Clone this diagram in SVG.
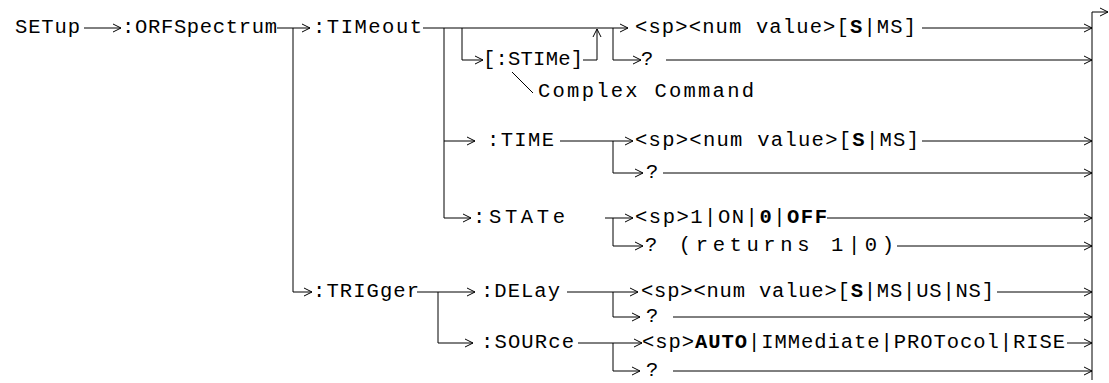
<svg xmlns="http://www.w3.org/2000/svg" width="1109" height="383" viewBox="0 0 1109 383">
<style>
text{font-family:"Liberation Mono","Courier New",monospace;font-size:20.5px;fill:#000}
.b{font-weight:bold}
.c{fill:none;stroke:#000;stroke-width:1}
</style>
<defs>
<marker id="a" markerUnits="userSpaceOnUse" markerWidth="10" markerHeight="10" refX="8" refY="4" orient="auto" overflow="visible">
<path d="M0,0 L8,4 L0,8" fill="none" stroke="#000" stroke-width="1"/>
</marker>
</defs>
<rect width="1109" height="383" fill="#fff"/>
<g id="connectors" class="c" marker-end="url(#a)">
<path d="M84,28 H121"/>
<path d="M277,28 H310"/>
<path d="M293,28 V292 H312"/>
<path d="M423,28 H628"/>
<path d="M444,28 V141 H475"/>
<path d="M444,141 V218 H471"/>
<path d="M462,28 V60 H483"/>
<path d="M583,60 H597 V29"/>
<path d="M613,28 V60 H641"/>
<path d="M666,60 H1092"/>
<path d="M922,28 H1092"/>
<path d="M560,141 H633"/>
<path d="M613,141 V173 H643"/>
<path d="M922,141 H1092"/>
<path d="M663,173 H1092"/>
<path d="M605,218 H633"/>
<path d="M613,218 V246 H643"/>
<path d="M827,218 H1092"/>
<path d="M897,246 H1092"/>
<path d="M417,292 H475"/>
<path d="M438,292 V343 H473"/>
<path d="M567,292 H638"/>
<path d="M613,292 V317 H640"/>
<path d="M997,292 H1092"/>
<path d="M673,317 H1092"/>
<path d="M578,343 H642"/>
<path d="M613,343 V371 H640"/>
<path d="M1067,343 H1092"/>
<path d="M673,371 H1092"/>
<path d="M1092,380 V12 H1108"/>
<path d="M512,72 L533,93" marker-end="none"/>
</g>
<g id="setup"><text x="15" y="33" textLength="65">SETup</text></g>
<g id="orfspectrum"><text x="122" y="33" textLength="155">:ORFSpectrum</text></g>
<g id="timeout"><text x="313" y="33" textLength="109">:TIMeout</text></g>
<g id="timeout-value"><text x="635" y="33" textLength="281">&lt;sp&gt;&lt;num value&gt;[<tspan class="b">S</tspan>|MS]</text></g>
<g id="stime"><text x="483" y="65" textLength="100">[:STIMe]</text></g>
<g id="timeout-query"><text x="641" y="65">?</text></g>
<g id="complex-command"><text x="538" y="97" textLength="216">Complex Command</text></g>
<g id="time"><text x="487" y="146" textLength="67">:TIME</text></g>
<g id="time-value"><text x="635" y="146" textLength="284">&lt;sp&gt;&lt;num value&gt;[<tspan class="b">S</tspan>|MS]</text></g>
<g id="time-query"><text x="646" y="178">?</text></g>
<g id="state"><text x="473" y="223" textLength="92">:STATe</text></g>
<g id="state-value"><text x="635" y="223" textLength="192">&lt;sp&gt;1|ON|<tspan class="b">0</tspan>|<tspan class="b">OFF</tspan></text></g>
<g id="state-query"><text x="645" y="251" textLength="249">? (returns 1|0)</text></g>
<g id="trigger"><text x="313" y="297" textLength="106">:TRIGger</text></g>
<g id="delay"><text x="481" y="297" textLength="79">:DELay</text></g>
<g id="delay-value"><text x="641" y="297" textLength="353">&lt;sp&gt;&lt;num value&gt;[<tspan class="b">S</tspan>|MS|US|NS]</text></g>
<g id="delay-query"><text x="646" y="322">?</text></g>
<g id="source"><text x="481" y="348" textLength="93">:SOURce</text></g>
<g id="source-value"><text x="642" y="348" textLength="423">&lt;sp&gt;<tspan class="b">AUTO</tspan>|IMMediate|PROTocol|RISE</text></g>
<g id="source-query"><text x="646" y="376">?</text></g>
</svg>
